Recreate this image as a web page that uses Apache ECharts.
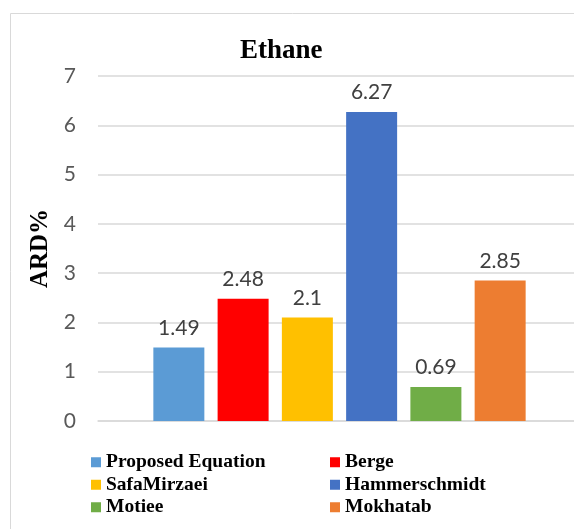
<!DOCTYPE html>
<html>
<head>
<meta charset="utf-8">
<script src="https://cdn.jsdelivr.net/npm/echarts@6/dist/echarts.min.js"></script>
<style>
  html, body { margin: 0; padding: 0; background: #fff; }
  #chart { width: 574px; height: 529px; }
</style>
</head>
<body>
<div id="chart"></div>
<script>
// data
var methods = ['Proposed Equation', 'Berge', 'SafaMirzaei', 'Hammerschmidt', 'Motiee', 'Mokhatab']
var ard = [1.49, 2.48, 2.1, 6.27, 0.69, 2.85]
var yTicks = [0, 1, 2, 3, 4, 5, 6, 7]

var colors = ['#5b9bd5', '#ff0000', '#ffc000', '#4472c4', '#70ad47', '#ed7d31']
var serif = '"Liberation Serif", "Times New Roman", serif'

var chart = echarts.init(document.getElementById('chart'))

var series = methods.map(function (name, i) {
  return {
    name: name,
    type: 'bar',
    barWidth: 51,
    barGap: '26%',
    itemStyle: { color: colors[i] },
    label: {
      show: true,
      position: 'top',
      distance: 9,
      color: '#404040',
      fontSize: 21,
      fontFamily: 'Lato, sans-serif'
    },
    data: [ard[i]]
  }
})

var legendText = { fontFamily: serif, fontWeight: 'bold', fontSize: 19.5, color: '#000', lineHeight: 22.5 }

chart.setOption({
  animation: false,
  title: {
    text: 'Ethane',
    left: 235,
    top: 33,
    textStyle: { fontFamily: serif, fontWeight: 'bold', fontSize: 27, color: '#000' }
  },
  graphic: [{
    type: 'rect',
    shape: { x: 10.5, y: 13.5, width: 700, height: 700 },
    style: { fill: 'none', stroke: '#d9d9d9', lineWidth: 1 },
    silent: true
  }],
  legend: [
    {
      orient: 'vertical',
      left: 86,
      top: 446,
      itemWidth: 10,
      itemHeight: 10,
      itemGap: 0,
      icon: 'rect',
      data: [methods[0], methods[2], methods[4]],
      textStyle: legendText
    },
    {
      orient: 'vertical',
      left: 325,
      top: 446,
      itemWidth: 10,
      itemHeight: 10,
      itemGap: 0,
      icon: 'rect',
      data: [methods[1], methods[3], methods[5]],
      textStyle: legendText
    }
  ],
  grid: { left: 98, right: -7, top: 76, bottom: 108, containLabel: false, outerBoundsMode: 'none' },
  xAxis: {
    type: 'category',
    data: [''],
    axisLine: { lineStyle: { color: '#d9d9d9', width: 1.5 } },
    axisTick: { show: false },
    axisLabel: { show: false }
  },
  yAxis: {
    type: 'value',
    min: yTicks[0],
    max: yTicks[yTicks.length - 1],
    interval: 1,
    name: 'ARD%',
    nameLocation: 'middle',
    nameGap: 41,
    nameTextStyle: { fontFamily: serif, fontWeight: 'bold', fontSize: 25, color: '#000' },
    axisLine: { show: false },
    axisTick: { show: false },
    axisLabel: { color: '#595959', fontSize: 21, fontFamily: 'Lato, sans-serif', margin: 22 },
    splitLine: { lineStyle: { color: '#d9d9d9', width: 1.5 } }
  },
  series: series
})
</script>
</body>
</html>
